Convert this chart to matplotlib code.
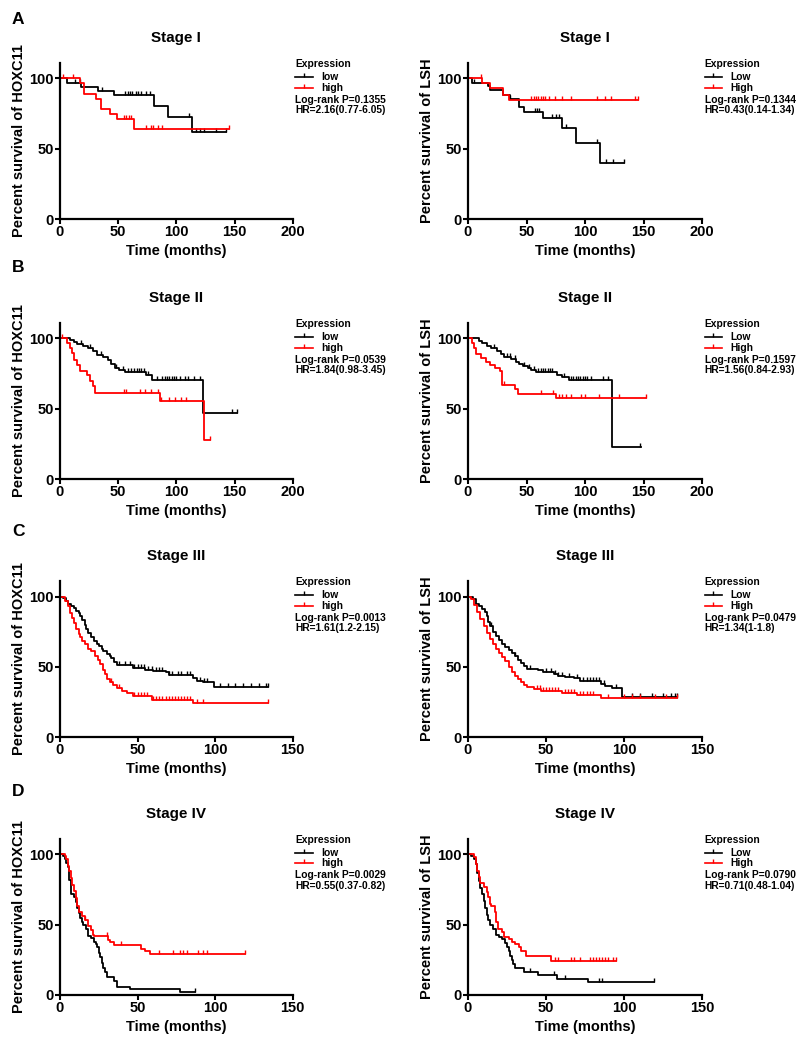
import numpy as np
import matplotlib
matplotlib.use("Agg")
import matplotlib.pyplot as plt

plt.rcParams['font.family'] = ['Liberation Sans', 'DejaVu Sans']
plt.rcParams['font.weight'] = 'bold'
plt.rcParams['axes.labelweight'] = 'bold'
plt.rcParams['axes.titleweight'] = 'bold'

# Kaplan-Meier curves: step times, survival (%) after each step,
# last follow-up time and censoring times

# A - Stage I
hoxI_low_t = [6, 18, 33, 46, 81, 93, 113]
hoxI_low_s = [97, 94, 91, 88, 80.5, 72.5, 62]
hoxI_low_end = 143
hoxI_low_c = [13, 17, 36, 56, 58, 60, 62, 65, 67, 70, 74, 77, 111, 117, 120, 124, 134, 143]
hoxI_high_t = [17, 21, 31, 35, 43, 49, 64]
hoxI_high_s = [96.5, 89, 85.5, 78.5, 74.5, 71, 64]
hoxI_high_end = 145
hoxI_high_c = [3, 11, 55, 57, 59, 61, 74, 78, 80, 84, 88, 145]

lshI_low_t = [3, 17, 19, 30, 36, 44, 48, 64, 80.5, 92, 113]
lshI_low_s = [97, 94.5, 92, 88, 85.5, 80, 76.5, 72, 65, 54, 40]
lshI_low_end = 133
lshI_low_c = [5, 36, 57, 59, 61, 72, 75, 78, 84, 110, 118, 124, 133]
lshI_high_t = [12, 19, 30, 35]
lshI_high_s = [97, 93, 88, 85]
lshI_high_end = 145
lshI_high_c = [11, 54, 56, 58, 60, 62, 64, 66, 69, 74, 80, 88, 110, 117, 122, 143, 145]

# B - Stage II
hoxII_low_t = [9, 12, 15, 20, 24, 28, 32, 37, 41, 44, 47, 51, 56, 74, 79, 123]
hoxII_low_s = [99, 97.5, 96, 94.5, 93, 91, 88.5, 86.5, 84.5, 81.5, 79, 77.5, 76, 74, 70.5, 47]
hoxII_low_end = 152
hoxII_low_c = [18, 26, 35, 48, 54, 58, 61, 64, 66, 68, 70, 72, 76, 83, 88, 90, 92, 94, 96,
               98, 100, 103, 107, 110, 115, 120, 148, 152]
hoxII_high_t = [6, 8.5, 10.5, 12, 15, 17, 23, 25.5, 28, 30, 85.5, 124]
hoxII_high_s = [97, 93.5, 90, 85, 81, 77, 74, 70, 66, 61.5, 55.5, 28]
hoxII_high_end = 129
hoxII_high_c = [2, 55, 57, 69, 73, 78, 84, 87, 94, 99, 104, 108, 129]

lshII_low_t = [9, 12, 16, 20, 25, 28, 31, 37, 41, 44, 47, 51, 54, 58, 76, 80, 86, 123]
lshII_low_s = [98.5, 97, 95, 93, 91, 89, 87, 85.5, 83.5, 82, 80.5, 79, 77.5, 76, 74, 72.5, 70.5, 23]
lshII_low_end = 148
lshII_low_c = [22, 33, 36, 40, 48, 52, 56, 60, 62, 64, 66, 68, 70, 72, 82, 88, 90, 92, 94,
               96, 98, 100, 102, 105, 115, 120, 147]
lshII_high_t = [3, 5, 7, 11, 15, 19, 23, 27, 29, 40, 43, 75]
lshII_high_s = [97, 93, 89, 86, 83, 81, 79, 77, 67, 64, 60.5, 57.5]
lshII_high_end = 152
lshII_high_c = [31, 62, 73, 78, 80, 84, 88, 97, 100, 112, 129, 152]

# C - Stage III
hoxIII_low_t = [2, 4, 5, 7, 9, 10, 12, 13, 14, 16, 17, 18, 20, 22, 24, 25, 27, 28, 30, 32, 33,
                35, 37, 47, 55, 60, 68, 70, 86, 88, 92, 99]
hoxIII_low_s = [99, 97, 95, 93.5, 92, 90, 88, 86, 83, 80, 77, 74, 71, 68.5, 66.5, 64.5, 62.5,
                61, 59, 58, 56, 53.5, 51.5, 49, 48, 47, 46, 43.8, 42, 40, 39, 35.3]
hoxIII_low_end = 134
hoxIII_low_c = [38, 42, 45, 48, 50, 52, 54, 57, 59, 62, 64, 66, 70, 72, 76, 78, 82, 84, 90,
                93, 95, 103, 108, 113, 118, 123, 128, 133, 134]
hoxIII_high_t = [3, 5, 6.5, 8, 9, 10.5, 12, 13, 14, 16, 18, 20, 22.5, 24.5, 26, 27.5, 29, 30.5,
                 32, 34, 36.5, 40, 43, 47, 59, 86]
hoxIII_high_s = [97, 93, 88, 85, 81, 77, 73, 71, 68, 66, 63, 61, 58, 55, 52, 48, 45, 41, 39,
                 37, 35, 33, 31, 29, 26.5, 24.5]
hoxIII_high_end = 134
hoxIII_high_c = [33, 38, 48, 50, 52, 54, 56, 60, 62, 64, 66, 68, 70, 72, 74, 76, 78, 80, 82,
                 84, 88, 92, 134]

lshIII_low_t = [3, 5, 7, 9, 11, 12, 13, 14, 16, 18, 20, 22, 24, 26, 28, 30, 32, 34, 36, 38,
                45, 48, 55, 58, 62, 68, 72, 85, 88, 92, 99]
lshIII_low_s = [98, 95, 93, 91, 89, 86, 82, 79, 75, 72, 69, 66, 64, 62, 60, 57.5, 55, 52.5,
                50.5, 48.5, 47.5, 46, 45, 43.7, 43, 41.8, 40, 38, 36, 34.7, 28.3]
lshIII_low_end = 134
lshIII_low_c = [15, 30, 40, 50, 53, 56, 58, 60, 65, 70, 74, 76, 78, 80, 82, 84, 87, 95, 105,
                110, 118, 125, 130, 133, 134]
lshIII_high_t = [2, 4, 6, 8, 10, 12, 14, 16, 18, 20, 22, 24, 26, 28, 30, 32, 34, 36, 38, 42,
                 47, 60, 70, 85]
lshIII_high_s = [98, 94, 89, 84, 79, 74, 69.5, 66, 63, 60, 57, 54, 50, 46.5, 43.5, 41, 39, 37,
                 35.5, 34.3, 32.8, 31.5, 30, 28]
lshIII_high_end = 134
lshIII_high_c = [44, 46, 48, 50, 52, 54, 56, 58, 62, 64, 66, 68, 72, 74, 76, 78, 80, 90, 100,
                 105, 110, 120, 127, 134]

# D - Stage IV
hoxIV_low_t = [2, 3, 4, 5, 6, 7, 9, 10, 11, 12, 13, 14, 15, 17, 18, 20, 22, 23, 24, 25, 26,
               27, 28, 29, 30, 35, 37, 45, 77]
hoxIV_low_s = [99, 97, 94, 91, 82, 72, 70, 66, 62, 58, 55, 52, 50, 47, 42, 40.5, 38, 36, 34,
               30, 27, 23, 19, 16, 13, 10, 6, 4, 2]
hoxIV_low_end = 87
hoxIV_low_c = [87]
hoxIV_high_t = [3, 4, 5, 6, 7, 8, 9, 10, 11, 12, 14, 16, 18, 20, 21, 22, 31, 32, 35, 52, 55, 58]
hoxIV_high_s = [99, 97, 92, 88, 83, 78, 74, 69, 63, 59, 56, 53, 49, 46, 43, 42, 39, 37.5,
                35.5, 32.5, 31, 29.5]
hoxIV_high_end = 119
hoxIV_high_c = [16, 30, 39, 64, 73, 77, 79, 82, 89, 92, 95, 119]

lshIV_low_t = [2, 4, 5, 6, 7, 8, 9, 10, 11, 12, 13, 14, 16, 18, 20, 22, 24, 25, 26, 27, 28,
               29, 30, 36, 45, 57, 77]
lshIV_low_s = [99, 97, 93, 87, 81, 76, 72, 67, 62, 57, 53, 50, 47, 43, 41.5, 40, 37, 34, 31,
               28, 25, 22, 19.5, 16.5, 14, 11.5, 9]
lshIV_low_end = 119
lshIV_low_c = [40, 55, 62, 84, 86, 119]
lshIV_high_t = [4, 5, 6, 7, 8, 10, 12, 13, 14, 15, 17, 18, 19, 22, 23, 26, 28, 30, 33, 34, 37, 53]
lshIV_high_s = [98, 93, 88, 84, 80, 77, 73, 70, 65, 63, 59, 52, 47, 45, 41.5, 39.5, 38, 36.5,
                34, 31, 28, 24.5]
lshIV_high_end = 95
lshIV_high_c = [56, 58, 66, 68, 72, 78, 80, 82, 84, 86, 88, 90, 93, 95]

titles = ["Stage I", "Stage II", "Stage III", "Stage IV"]
xmax = [200, 200, 150, 150]
letters = ["A", "B", "C", "D"]
hox_p = ["Log-rank P=0.1355", "Log-rank P=0.0539", "Log-rank P=0.0013", "Log-rank P=0.0029"]
hox_hr = ["HR=2.16(0.77-6.05)", "HR=1.84(0.98-3.45)", "HR=1.61(1.2-2.15)", "HR=0.55(0.37-0.82)"]
lsh_p = ["Log-rank P=0.1344", "Log-rank P=0.1597", "Log-rank P=0.0479", "Log-rank P=0.0790"]
lsh_hr = ["HR=0.43(0.14-1.34)", "HR=1.56(0.84-2.93)", "HR=1.34(1-1.8)", "HR=0.71(0.48-1.04)"]

hox = [
    [(hoxI_low_t, hoxI_low_s, hoxI_low_end, hoxI_low_c), (hoxI_high_t, hoxI_high_s, hoxI_high_end, hoxI_high_c)],
    [(hoxII_low_t, hoxII_low_s, hoxII_low_end, hoxII_low_c), (hoxII_high_t, hoxII_high_s, hoxII_high_end, hoxII_high_c)],
    [(hoxIII_low_t, hoxIII_low_s, hoxIII_low_end, hoxIII_low_c), (hoxIII_high_t, hoxIII_high_s, hoxIII_high_end, hoxIII_high_c)],
    [(hoxIV_low_t, hoxIV_low_s, hoxIV_low_end, hoxIV_low_c), (hoxIV_high_t, hoxIV_high_s, hoxIV_high_end, hoxIV_high_c)],
]
lsh = [
    [(lshI_low_t, lshI_low_s, lshI_low_end, lshI_low_c), (lshI_high_t, lshI_high_s, lshI_high_end, lshI_high_c)],
    [(lshII_low_t, lshII_low_s, lshII_low_end, lshII_low_c), (lshII_high_t, lshII_high_s, lshII_high_end, lshII_high_c)],
    [(lshIII_low_t, lshIII_low_s, lshIII_low_end, lshIII_low_c), (lshIII_high_t, lshIII_high_s, lshIII_high_end, lshIII_high_c)],
    [(lshIV_low_t, lshIV_low_s, lshIV_low_end, lshIV_low_c), (lshIV_high_t, lshIV_high_s, lshIV_high_end, lshIV_high_c)],
]

colors = ["black", "red"]


def km(ax, t, s, end, c, color):
    x = [0] + list(t) + [end]
    y = [100] + list(s) + [s[-1]]
    ax.step(x, y, where='post', color=color, lw=1.3, clip_on=False)
    tt = np.array([0] + list(t))
    ss = np.array([100] + list(s))
    idx = np.searchsorted(tt, c, side='right') - 1
    ax.plot(c, ss[idx], ls='none', marker=2, ms=3, mew=1, color=color, clip_on=False)


def panel(ax, curves, title, ylabel, xm, names, ptxt, hrtxt):
    for (t, s, end, c), col in zip(curves, colors):
        km(ax, t, s, end, c, col)
    ax.set_xlim(0, xm)
    ax.set_ylim(0, 111)
    ax.set_xticks(np.arange(0, xm + 1, 50))
    ax.set_yticks([0, 50, 100])
    for side in ['top', 'right']:
        ax.spines[side].set_visible(False)
    for side in ['left', 'bottom']:
        ax.spines[side].set_linewidth(1.6)
    ax.tick_params(width=1.5, length=3.6, pad=1, labelsize=10.5)
    ax.set_title(title, fontsize=11, pad=15)
    ax.set_ylabel(ylabel, fontsize=10.5, labelpad=2)
    ax.set_xlabel("Time (months)", fontsize=10.5, labelpad=3)

    # legend block to the right of the axes
    x0 = 1.011
    fs = 7.4
    ax.text(x0, 0.994, "Expression", transform=ax.transAxes, fontsize=fs, va='center')
    for yy, name, col in zip([0.913, 0.843], names, colors):
        ax.plot([x0, x0 + 0.074], [yy, yy], transform=ax.transAxes, color=col, lw=1.2, clip_on=False)
        ax.plot([x0 + 0.037], [yy], transform=ax.transAxes, marker=2, ms=3, mew=1, color=col, clip_on=False)
        ax.text(x0 + 0.112, yy, name, transform=ax.transAxes, fontsize=fs, va='center')
    ax.text(x0, 0.766, ptxt, transform=ax.transAxes, fontsize=fs, va='center')
    ax.text(x0, 0.696, hrtxt, transform=ax.transAxes, fontsize=fs, va='center')


fig = plt.figure(figsize=(8, 10.4), dpi=100)
bottoms = [0.7894, 0.5394, 0.2913, 0.0433]
letter_y = [20, 267, 531, 791]

for i in range(4):
    axl = fig.add_axes([0.075, bottoms[i], 0.291, 0.15])
    panel(axl, hox[i], titles[i], "Percent survival of HOXC11", xmax[i], ["low", "high"], hox_p[i], hox_hr[i])
    axr = fig.add_axes([0.585, bottoms[i], 0.2925, 0.15])
    panel(axr, lsh[i], titles[i], "Percent survival of LSH", xmax[i], ["Low", "High"], lsh_p[i], lsh_hr[i])
    fig.text(0.015, 1 - letter_y[i] / 1040, letters[i], fontsize=12.5, va='center', ha='left')

fig.savefig("out.png", dpi=100)
